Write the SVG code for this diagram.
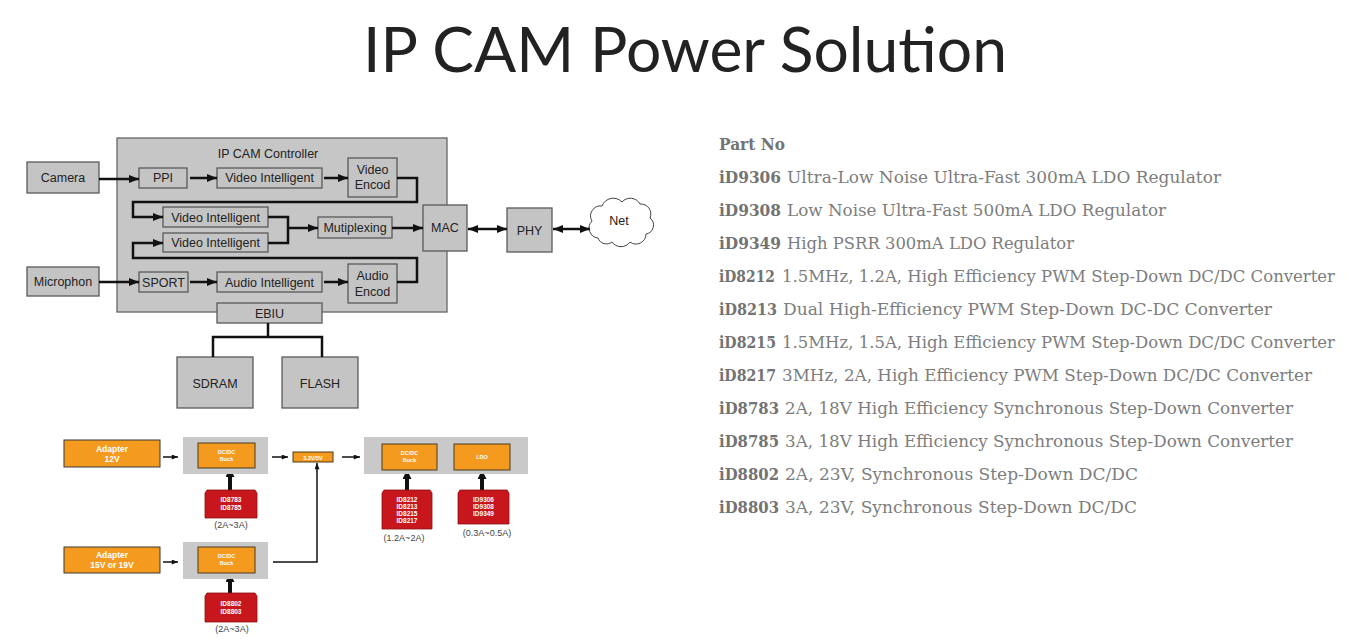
<svg xmlns="http://www.w3.org/2000/svg" width="1348" height="639" viewBox="0 0 1348 639">
<defs>
<style>
.bg{fill:#ffffff}
.title{font-family:Lato,"Open Sans","Liberation Sans",sans-serif;font-size:62px;fill:#222222;font-weight:400}
.pn{font-family:"DejaVu Serif","Liberation Serif",serif;font-size:16px;fill:#7d7d7d}
.pb{font-family:"DejaVu Serif","Liberation Serif",serif;font-size:16.5px;fill:#737373;font-weight:bold}
.box{fill:#c4c4c4;stroke:#5a5a5a;stroke-width:1.3}
.ctrl{fill:#c6c6c6;stroke:#666666;stroke-width:1.3}
.lbl{font-family:"Liberation Sans",Arial,sans-serif;font-size:12.5px;fill:#222222;text-anchor:middle}
.con{fill:none;stroke:#111111;stroke-width:2.5}
.pgray{fill:#c9c9c9}
.orange{fill:#f39a1f;stroke:#3a3a3a;stroke-width:1}
.orin{fill:#f39a1f;stroke:#4a3a20;stroke-width:1}
.chip{fill:#c8161d;stroke:#8a0f12;stroke-width:0.8}
.wt{font-family:"Liberation Sans",Arial,sans-serif;fill:#ffffff;font-weight:bold;text-anchor:middle}
.cur{font-family:"Liberation Sans",Arial,sans-serif;font-size:9px;fill:#444444;text-anchor:middle}
.pcon{fill:none;stroke:#111111;stroke-width:1.5}
.thick{fill:none;stroke:#111111;stroke-width:4}
</style>
<marker id="ah" viewBox="0 0 10 8" refX="10" refY="4" markerWidth="11" markerHeight="8" markerUnits="userSpaceOnUse" orient="auto-start-reverse"><path d="M0,0 L10,4 L0,8 z" fill="#111111"/></marker>
<marker id="sa" viewBox="0 0 10 8" refX="10" refY="4" markerWidth="7" markerHeight="5" markerUnits="userSpaceOnUse" orient="auto"><path d="M0,0 L10,4 L0,8 z" fill="#111111"/></marker>
<marker id="ta" viewBox="0 0 10 10" refX="9" refY="5" markerWidth="10" markerHeight="9" markerUnits="userSpaceOnUse" orient="auto"><path d="M0,0 L10,5 L0,10 z" fill="#111111"/></marker>
</defs>
<rect class="bg" x="0" y="0" width="1348" height="639"/>

<text class="title" x="363" y="72" textLength="644" lengthAdjust="spacingAndGlyphs">IP CAM Power Solution</text>

<g id="part-list">
<text class="pb" x="719" y="150" textLength="66" lengthAdjust="spacingAndGlyphs">Part No</text>
<text class="pb" x="719" y="183" textLength="62" lengthAdjust="spacingAndGlyphs">iD9306</text><text class="pn" x="787" y="183" textLength="434" lengthAdjust="spacingAndGlyphs">Ultra-Low Noise Ultra-Fast 300mA LDO Regulator</text>
<text class="pb" x="719" y="216" textLength="62" lengthAdjust="spacingAndGlyphs">iD9308</text><text class="pn" x="787" y="216" textLength="379" lengthAdjust="spacingAndGlyphs">Low Noise Ultra-Fast 500mA LDO Regulator</text>
<text class="pb" x="719" y="249" textLength="62" lengthAdjust="spacingAndGlyphs">iD9349</text><text class="pn" x="787" y="249" textLength="287" lengthAdjust="spacingAndGlyphs">High PSRR 300mA LDO Regulator</text>
<text class="pb" x="719" y="282" textLength="56" lengthAdjust="spacingAndGlyphs">iD8212</text><text class="pn" x="782" y="282" textLength="553" lengthAdjust="spacingAndGlyphs">1.5MHz, 1.2A, High Efficiency PWM Step-Down DC/DC Converter</text>
<text class="pb" x="719" y="315" textLength="58" lengthAdjust="spacingAndGlyphs">iD8213</text><text class="pn" x="783" y="315" textLength="489" lengthAdjust="spacingAndGlyphs">Dual High-Efficiency PWM Step-Down DC-DC Converter</text>
<text class="pb" x="719" y="348" textLength="57" lengthAdjust="spacingAndGlyphs">iD8215</text><text class="pn" x="782" y="348" textLength="553" lengthAdjust="spacingAndGlyphs">1.5MHz, 1.5A, High Efficiency PWM Step-Down DC/DC Converter</text>
<text class="pb" x="719" y="381" textLength="57" lengthAdjust="spacingAndGlyphs">iD8217</text><text class="pn" x="782" y="381" textLength="530" lengthAdjust="spacingAndGlyphs">3MHz, 2A, High Efficiency PWM Step-Down DC/DC Converter</text>
<text class="pb" x="719" y="414" textLength="60" lengthAdjust="spacingAndGlyphs">iD8783</text><text class="pn" x="785" y="414" textLength="508" lengthAdjust="spacingAndGlyphs">2A, 18V High Efficiency Synchronous Step-Down Converter</text>
<text class="pb" x="719" y="447" textLength="60" lengthAdjust="spacingAndGlyphs">iD8785</text><text class="pn" x="785" y="447" textLength="508" lengthAdjust="spacingAndGlyphs">3A, 18V High Efficiency Synchronous Step-Down Converter</text>
<text class="pb" x="719" y="480" textLength="60" lengthAdjust="spacingAndGlyphs">iD8802</text><text class="pn" x="785" y="480" textLength="353" lengthAdjust="spacingAndGlyphs">2A, 23V, Synchronous Step-Down DC/DC</text>
<text class="pb" x="719" y="513" textLength="60" lengthAdjust="spacingAndGlyphs">iD8803</text><text class="pn" x="785" y="513" textLength="352" lengthAdjust="spacingAndGlyphs">3A, 23V, Synchronous Step-Down DC/DC</text>
</g>

<!-- Block diagram -->
<g id="controller"><rect class="ctrl" x="117" y="138" width="330" height="174"/><text class="lbl" x="268" y="158">IP CAM Controller</text></g>
<g id="camera"><rect class="box" x="27" y="162" width="72" height="31"/><text class="lbl" x="63" y="182">Camera</text></g>
<g id="microphon"><rect class="box" x="27" y="267" width="72" height="29"/><text class="lbl" x="63" y="286">Microphon</text></g>
<g id="ppi"><rect class="box" x="139" y="168" width="48" height="20"/><text class="lbl" x="163" y="182">PPI</text></g>
<g id="video-intel-1"><rect class="box" x="217" y="168" width="105" height="20"/><text class="lbl" x="269.5" y="182">Video Intelligent</text></g>
<g id="video-encod"><rect class="box" x="348" y="158" width="49" height="39"/><text class="lbl" x="372.5" y="174">Video</text><text class="lbl" x="372.5" y="189">Encod</text></g>
<g id="video-intel-2"><rect class="box" x="163" y="207" width="105" height="20"/><text class="lbl" x="215.5" y="221.5">Video Intelligent</text></g>
<g id="video-intel-3"><rect class="box" x="163" y="233" width="105" height="19"/><text class="lbl" x="215.5" y="247">Video Intelligent</text></g>
<g id="mutiplexing"><rect class="box" x="318" y="217" width="74" height="21"/><text class="lbl" x="355" y="232">Mutiplexing</text></g>
<g id="sport"><rect class="box" x="139" y="272" width="49" height="20"/><text class="lbl" x="163.5" y="286.5">SPORT</text></g>
<g id="audio-intel"><rect class="box" x="217" y="272" width="105" height="20"/><text class="lbl" x="269.5" y="286.5">Audio Intelligent</text></g>
<g id="audio-encod"><rect class="box" x="348" y="264" width="49" height="39"/><text class="lbl" x="372.5" y="280">Audio</text><text class="lbl" x="372.5" y="296">Encod</text></g>
<g id="ebiu"><rect class="box" x="217" y="303" width="105" height="20"/><text class="lbl" x="269.5" y="317.5">EBIU</text></g>
<g id="sdram"><rect class="box" x="177" y="357" width="76" height="51"/><text class="lbl" x="215" y="388">SDRAM</text></g>
<g id="flash"><rect class="box" x="282" y="357" width="76" height="51"/><text class="lbl" x="320" y="388">FLASH</text></g>
<g id="mac"><rect class="box" x="423" y="205" width="44" height="46"/><text class="lbl" x="445" y="232">MAC</text></g>
<g id="phy"><rect class="box" x="507" y="208" width="45" height="44"/><text class="lbl" x="529.5" y="235">PHY</text></g>
<g id="net"><path d="M598 238 a10 10 0 0 1 -6 -17 a10 10 0 0 1 10 -15 a12 12 0 0 1 20 -4 a11 11 0 0 1 18 2 a10 10 0 0 1 10 14 a9 9 0 0 1 -4 16 a10 10 0 0 1 -16 8 a11 11 0 0 1 -18 0 a9 9 0 0 1 -14 -4 z" fill="#ffffff" stroke="#444444" stroke-width="1"/><text class="lbl" x="619" y="225">Net</text></g>

<g id="connectors">
<path class="con" d="M99 179 H139" marker-end="url(#ah)"/>
<path class="con" d="M190 178 H217" marker-end="url(#ah)"/>
<path class="con" d="M324 178 H348" marker-end="url(#ah)"/>
<path class="con" d="M397 178 H417 V202 H133 V217 H163" marker-end="url(#ah)"/>
<path class="con" d="M268 217 H288 V243 H268"/>
<path class="con" d="M288 228 H318" marker-end="url(#ah)"/>
<path class="con" d="M392 228 H423" marker-end="url(#ah)"/>
<path class="con" d="M397 282 H417 V258 H133 V243 H163" marker-end="url(#ah)"/>
<path class="con" d="M99 282 H139" marker-end="url(#ah)"/>
<path class="con" d="M190 282 H217" marker-end="url(#ah)"/>
<path class="con" d="M324 282 H348" marker-end="url(#ah)"/>
<path class="con" d="M268 323 V337 M213 357 V337 H322 V357"/>
<path class="con" d="M468 229 H507" marker-start="url(#ah)" marker-end="url(#ah)"/>
<path class="con" d="M553 229 H590" marker-start="url(#ah)" marker-end="url(#ah)"/>
<path class="pcon" d="M163 457 H178" marker-end="url(#sa)"/>
<path class="pcon" d="M272 457 H288" marker-end="url(#sa)"/>
<path class="pcon" d="M342 457 H360" marker-end="url(#sa)"/>
<path class="pcon" d="M163 562 H178" marker-end="url(#sa)"/>
<path class="pcon" d="M273 562 H317 V463" marker-end="url(#sa)"/>
<path class="thick" d="M230 490 V469" marker-end="url(#ta)"/>
<path class="thick" d="M407 490 V471" marker-end="url(#ta)"/>
<path class="thick" d="M482 490 V471" marker-end="url(#ta)"/>
<path class="thick" d="M230 593 V574" marker-end="url(#ta)"/>
</g>

<!-- Power diagram -->
<g id="adapter-12v"><rect class="orange" x="64" y="440" width="96" height="27"/><text class="wt" x="112" y="452" font-size="8.5">Adapter</text><text class="wt" x="112" y="462" font-size="8.5">12V</text></g>
<g id="buck-1"><rect class="pgray" x="183" y="437" width="85" height="37"/><rect class="orin" x="198" y="443" width="57" height="25"/><text class="wt" x="226.5" y="454" font-size="5.5">DC/DC</text><text class="wt" x="226.5" y="461" font-size="5.5">Buck</text></g>
<g id="v33-5v"><rect class="orin" x="293" y="452" width="40" height="10"/><text class="wt" x="313" y="459.5" font-size="5.5">3.3V/5V</text></g>
<g id="load-stage"><rect class="pgray" x="364" y="437" width="164" height="37"/>
<rect class="orin" x="382" y="444" width="55" height="26"/><text class="wt" x="409.5" y="455" font-size="5.5">DC/DC</text><text class="wt" x="409.5" y="462" font-size="5.5">Buck</text>
<rect class="orin" x="454" y="444" width="56" height="26"/><text class="wt" x="482" y="459" font-size="5.5">LDO</text></g>
<g id="adapter-15-19v"><rect class="orange" x="64" y="547" width="96" height="26"/><text class="wt" x="112" y="558" font-size="8.5">Adapter</text><text class="wt" x="112" y="568" font-size="8.5">15V or 19V</text></g>
<g id="buck-2"><rect class="pgray" x="183" y="542" width="85" height="37"/><rect class="orin" x="198" y="547" width="57" height="26"/><text class="wt" x="226.5" y="558" font-size="5.5">DC/DC</text><text class="wt" x="226.5" y="565" font-size="5.5">Buck</text></g>

<g id="chip-8783"><path class="chip" d="M207 490 H255 L257 493 V518 H205 V493 Z"/><text class="wt" x="231" y="502" font-size="6.5">ID8783</text><text class="wt" x="231" y="510" font-size="6.5">ID8785</text><text class="cur" x="231" y="528">(2A~3A)</text></g>
<g id="chip-8212"><path class="chip" d="M384 490 H430 L432 493 V529 H382 V493 Z"/><text class="wt" x="407" y="502" font-size="6.5">ID8212</text><text class="wt" x="407" y="509" font-size="6.5">ID8213</text><text class="wt" x="407" y="516" font-size="6.5">ID8215</text><text class="wt" x="407" y="523" font-size="6.5">ID8217</text><text class="cur" x="404" y="541">(1.2A~2A)</text></g>
<g id="chip-9306"><path class="chip" d="M460 490 H507 L509 493 V524 H458 V493 Z"/><text class="wt" x="483.5" y="502" font-size="6.5">ID9306</text><text class="wt" x="483.5" y="509" font-size="6.5">ID9308</text><text class="wt" x="483.5" y="516" font-size="6.5">ID9349</text><text class="cur" x="487" y="536">(0.3A~0.5A)</text></g>
<g id="chip-8802"><path class="chip" d="M207 593 H255 L257 596 V622 H205 V596 Z"/><text class="wt" x="231" y="606" font-size="6.5">ID8802</text><text class="wt" x="231" y="614" font-size="6.5">ID8803</text><text class="cur" x="232" y="632">(2A~3A)</text></g>
</svg>
